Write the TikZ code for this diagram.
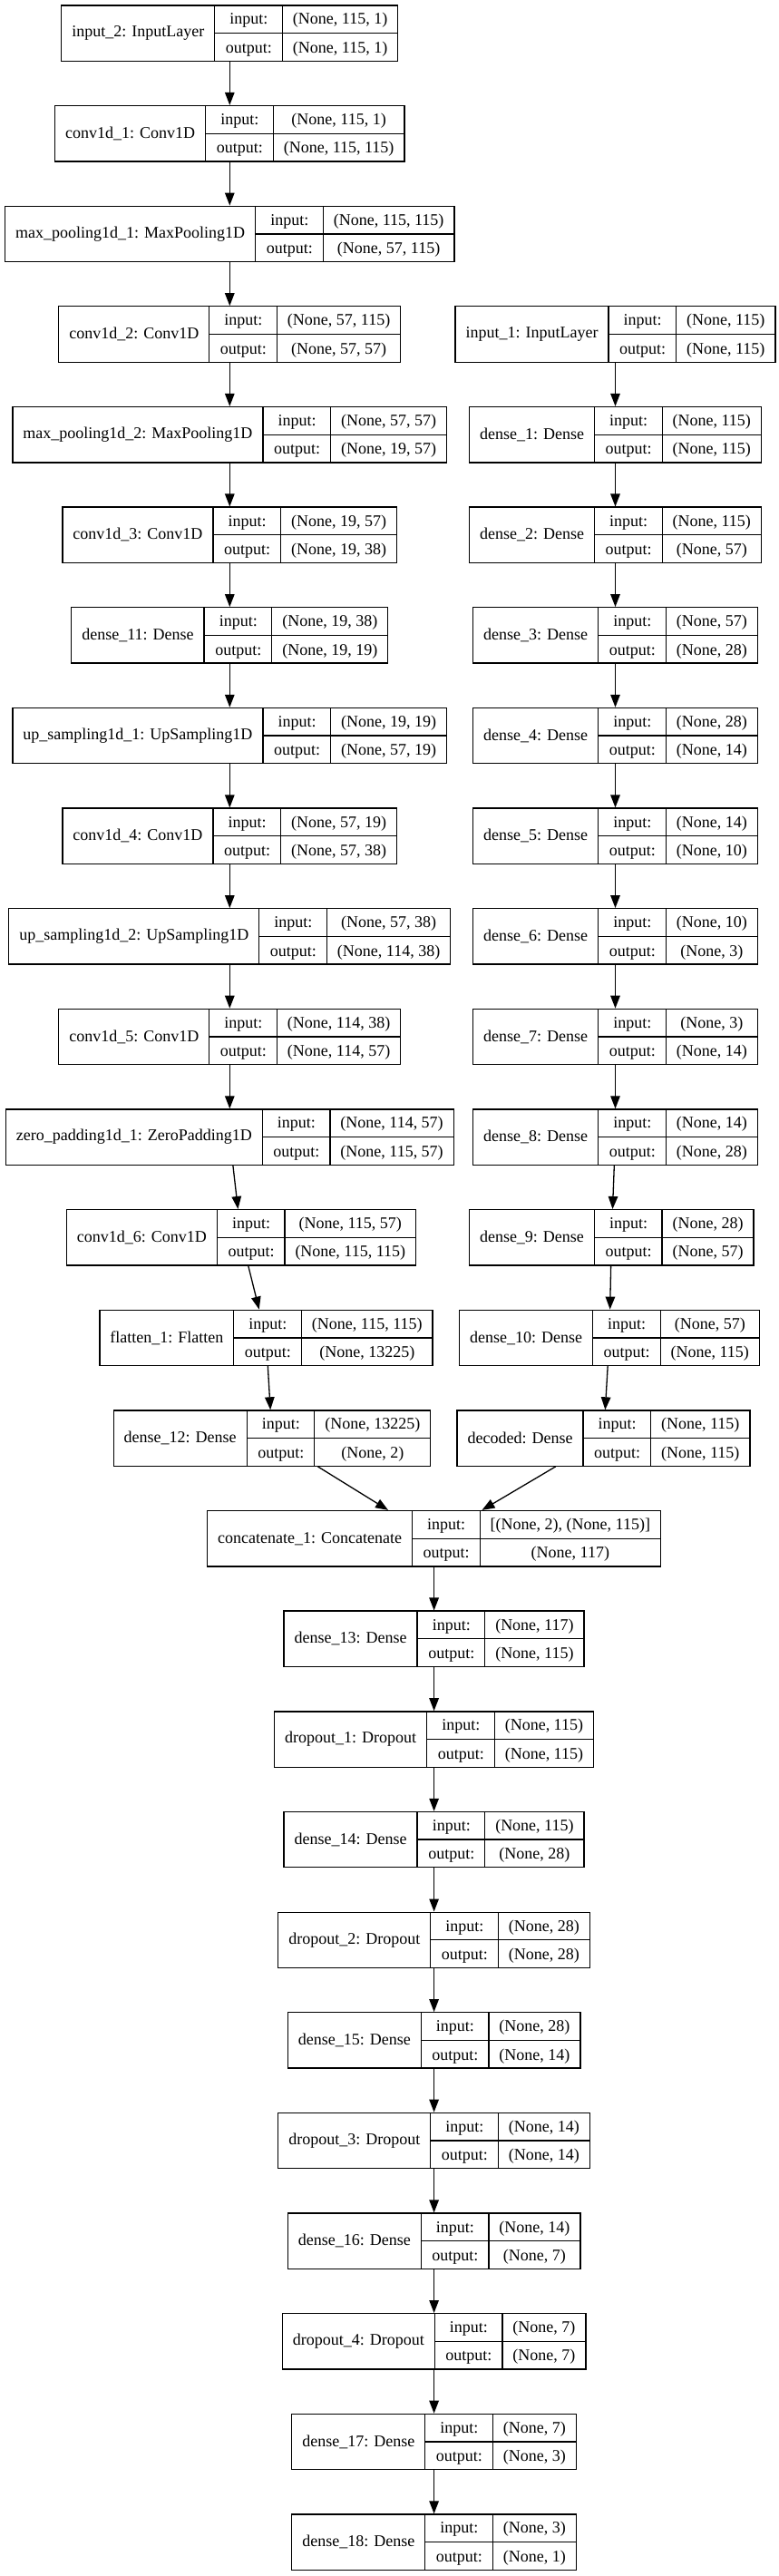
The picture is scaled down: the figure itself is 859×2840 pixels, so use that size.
\documentclass[tikz,border=0pt]{standalone}
\usepackage{fontspec}
\setmainfont{Liberation Serif}
\usetikzlibrary{arrows.meta}
\setlength{\arrayrulewidth}{1.3pt}
\setlength{\tabcolsep}{11.5pt}
\renewcommand{\arraystretch}{1.39}
% one keras layer: name, input shape, output shape
\newcommand{\layertab}[3]{%
  \begin{tabular}{c|@{}c@{}}
    $\vcenter{\hbox{#1}}$ &
    \begin{tabular}{c|c}
      input: & #2\\ \hline
      output: & #3
    \end{tabular}
  \end{tabular}}
\tikzset{layer/.style={draw=black,line width=1.3pt,inner sep=0pt,font=\fontsize{18}{21.6}\selectfont},
  flow/.style={-{Triangle[length=14pt,width=10.5pt]},line width=1.3pt}}

\begin{document}
\begin{tikzpicture}[x=1pt,y=1pt]
  \useasboundingbox (0,0) rectangle (859,-2840);
  % convolutional branch
  \node[layer] (in2) at (253.3,-36.6) {\layertab{input\_2: InputLayer}{(None, 115, 1)}{(None, 115, 1)}};
  \node[layer] (c1) at (253.3,-147.2) {\layertab{conv1d\_1: Conv1D}{(None, 115, 1)}{(None, 115, 115)}};
  \node[layer] (mp1) at (253.3,-257.9) {\layertab{max\_pooling1d\_1: MaxPooling1D}{(None, 115, 115)}{(None, 57, 115)}};
  \node[layer] (c2) at (253.3,-368.5) {\layertab{conv1d\_2: Conv1D}{(None, 57, 115)}{(None, 57, 57)}};
  \node[layer] (mp2) at (253.3,-479.2) {\layertab{max\_pooling1d\_2: MaxPooling1D}{(None, 57, 57)}{(None, 19, 57)}};
  \node[layer] (c3) at (253.3,-589.8) {\layertab{conv1d\_3: Conv1D}{(None, 19, 57)}{(None, 19, 38)}};
  \node[layer] (d11) at (253.3,-700.4) {\layertab{dense\_11: Dense}{(None, 19, 38)}{(None, 19, 19)}};
  \node[layer] (up1) at (253.3,-811.1) {\layertab{up\_sampling1d\_1: UpSampling1D}{(None, 19, 19)}{(None, 57, 19)}};
  \node[layer] (c4) at (253.3,-921.7) {\layertab{conv1d\_4: Conv1D}{(None, 57, 19)}{(None, 57, 38)}};
  \node[layer] (up2) at (253.3,-1032.4) {\layertab{up\_sampling1d\_2: UpSampling1D}{(None, 57, 38)}{(None, 114, 38)}};
  \node[layer] (c5) at (253.3,-1143.0) {\layertab{conv1d\_5: Conv1D}{(None, 114, 38)}{(None, 114, 57)}};
  \node[layer] (zp1) at (253.3,-1253.6) {\layertab{zero\_padding1d\_1: ZeroPadding1D}{(None, 114, 57)}{(None, 115, 57)}};
  \node[layer] (c6) at (266,-1364.3) {\layertab{conv1d\_6: Conv1D}{(None, 115, 57)}{(None, 115, 115)}};
  \node[layer] (fl1) at (293.5,-1474.9) {\layertab{flatten\_1: Flatten}{(None, 115, 115)}{(None, 13225)}};
  \node[layer] (d12) at (300,-1585.6) {\layertab{dense\_12: Dense}{(None, 13225)}{(None, 2)}};
  % dense branch
  \node[layer] (in1) at (678.5,-368.5) {\layertab{input\_1: InputLayer}{(None, 115)}{(None, 115)}};
  \node[layer] (d1) at (678.5,-479.2) {\layertab{dense\_1: Dense}{(None, 115)}{(None, 115)}};
  \node[layer] (d2) at (678.5,-589.8) {\layertab{dense\_2: Dense}{(None, 115)}{(None, 57)}};
  \node[layer] (d3) at (678.5,-700.4) {\layertab{dense\_3: Dense}{(None, 57)}{(None, 28)}};
  \node[layer] (d4) at (678.5,-811.1) {\layertab{dense\_4: Dense}{(None, 28)}{(None, 14)}};
  \node[layer] (d5) at (678.5,-921.7) {\layertab{dense\_5: Dense}{(None, 14)}{(None, 10)}};
  \node[layer] (d6) at (678.5,-1032.4) {\layertab{dense\_6: Dense}{(None, 10)}{(None, 3)}};
  \node[layer] (d7) at (678.5,-1143.0) {\layertab{dense\_7: Dense}{(None, 3)}{(None, 14)}};
  \node[layer] (d8) at (678.5,-1253.6) {\layertab{dense\_8: Dense}{(None, 14)}{(None, 28)}};
  \node[layer] (d9) at (674.3,-1364.3) {\layertab{dense\_9: Dense}{(None, 28)}{(None, 57)}};
  \node[layer] (d10) at (672,-1474.9) {\layertab{dense\_10: Dense}{(None, 57)}{(None, 115)}};
  \node[layer] (dec) at (665.5,-1585.6) {\layertab{decoded: Dense}{(None, 115)}{(None, 115)}};
  % merged head
  \node[layer] (cat) at (478.6,-1696.2) {\layertab{concatenate\_1: Concatenate}{[(None, 2), (None, 115)]}{(None, 117)}};
  \node[layer] (d13) at (478.6,-1806.8) {\layertab{dense\_13: Dense}{(None, 117)}{(None, 115)}};
  \node[layer] (dr1) at (478.6,-1917.5) {\layertab{dropout\_1: Dropout}{(None, 115)}{(None, 115)}};
  \node[layer] (d14) at (478.6,-2028.1) {\layertab{dense\_14: Dense}{(None, 115)}{(None, 28)}};
  \node[layer] (dr2) at (478.6,-2138.8) {\layertab{dropout\_2: Dropout}{(None, 28)}{(None, 28)}};
  \node[layer] (d15) at (478.6,-2249.4) {\layertab{dense\_15: Dense}{(None, 28)}{(None, 14)}};
  \node[layer] (dr3) at (478.6,-2360.0) {\layertab{dropout\_3: Dropout}{(None, 14)}{(None, 14)}};
  \node[layer] (d16) at (478.6,-2470.7) {\layertab{dense\_16: Dense}{(None, 14)}{(None, 7)}};
  \node[layer] (dr4) at (478.6,-2581.3) {\layertab{dropout\_4: Dropout}{(None, 7)}{(None, 7)}};
  \node[layer] (d17) at (478.6,-2692.0) {\layertab{dense\_17: Dense}{(None, 7)}{(None, 3)}};
  \node[layer] (d18) at (478.6,-2802.6) {\layertab{dense\_18: Dense}{(None, 3)}{(None, 1)}};
  % connections
  \draw[flow] (in2) -- (c1);
  \draw[flow] (c1) -- (mp1);
  \draw[flow] (mp1) -- (c2);
  \draw[flow] (c2) -- (mp2);
  \draw[flow] (mp2) -- (c3);
  \draw[flow] (c3) -- (d11);
  \draw[flow] (d11) -- (up1);
  \draw[flow] (up1) -- (c4);
  \draw[flow] (c4) -- (up2);
  \draw[flow] (up2) -- (c5);
  \draw[flow] (c5) -- (zp1);
  \draw[flow] (zp1) -- (c6);
  \draw[flow] (c6) -- (fl1);
  \draw[flow] (fl1) -- (d12);
  \draw[flow] (in1) -- (d1);
  \draw[flow] (d1) -- (d2);
  \draw[flow] (d2) -- (d3);
  \draw[flow] (d3) -- (d4);
  \draw[flow] (d4) -- (d5);
  \draw[flow] (d5) -- (d6);
  \draw[flow] (d6) -- (d7);
  \draw[flow] (d7) -- (d8);
  \draw[flow] (d8) -- (d9);
  \draw[flow] (d9) -- (d10);
  \draw[flow] (d10) -- (dec);
  \draw[flow] (d12) -- (cat);
  \draw[flow] (dec) -- (cat);
  \draw[flow] (cat) -- (d13);
  \draw[flow] (d13) -- (dr1);
  \draw[flow] (dr1) -- (d14);
  \draw[flow] (d14) -- (dr2);
  \draw[flow] (dr2) -- (d15);
  \draw[flow] (d15) -- (dr3);
  \draw[flow] (dr3) -- (d16);
  \draw[flow] (d16) -- (dr4);
  \draw[flow] (dr4) -- (d17);
  \draw[flow] (d17) -- (d18);
\end{tikzpicture}
\end{document}
